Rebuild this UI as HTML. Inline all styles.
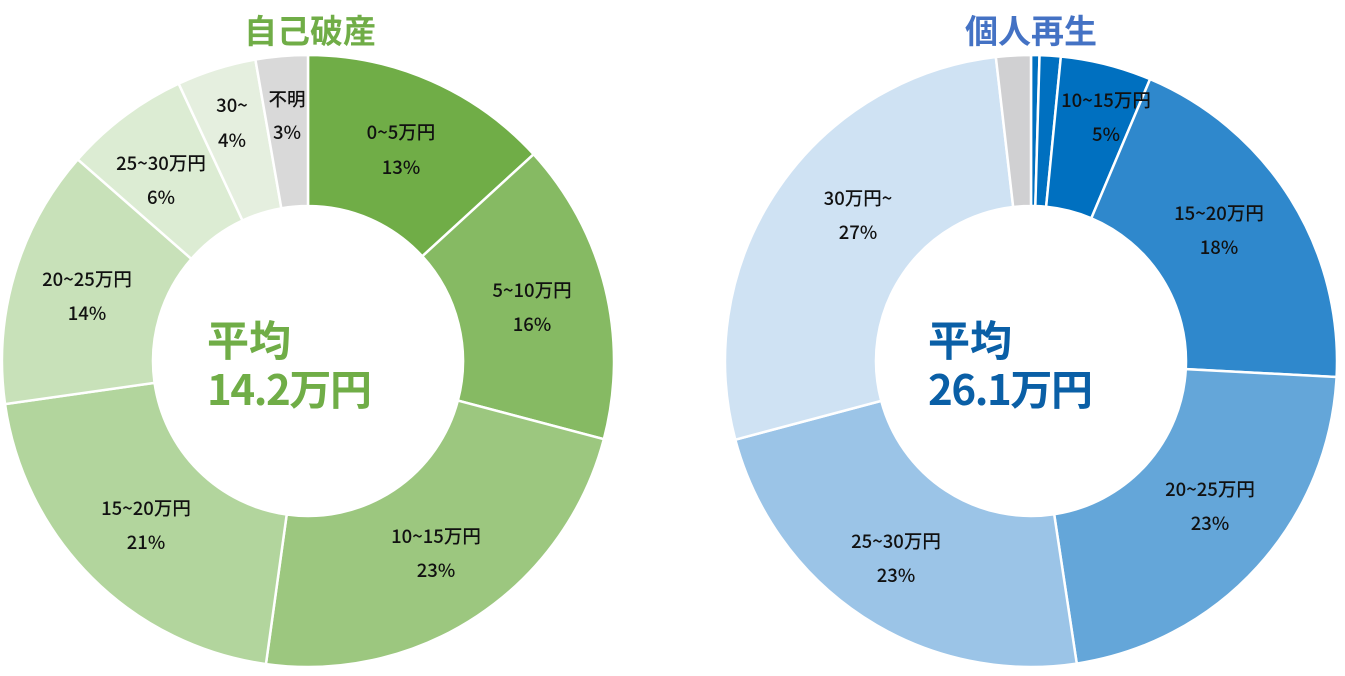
<!DOCTYPE html>
<html><head><meta charset="utf-8"><style>
html,body{margin:0;padding:0;background:#fff;}
svg{display:block;}
text{font-family:"Noto Sans CJK JP",sans-serif;}
.l{font-size:18.5px;font-weight:500;fill:#111;text-anchor:middle;}
</style></head><body>
<svg id="s" width="1345" height="676" viewBox="0 0 1345 676" xmlns="http://www.w3.org/2000/svg">
<text x="310" y="43" font-size="33" font-weight="bold" fill="#70ad47" text-anchor="middle">自己破産</text>
<text x="1031" y="43" font-size="33" font-weight="bold" fill="#4472c4" text-anchor="middle">個人再生</text>
<g id="g"></g>
<text x="207" y="356" font-size="42" font-weight="bold" fill="#70ad47">平均</text>
<text x="207" y="405" font-size="42" font-weight="bold" fill="#70ad47" textLength="165">14.2万円</text>
<text x="928" y="356" font-size="42" font-weight="bold" fill="#0a5fa6">平均</text>
<text x="928" y="405" font-size="42" font-weight="bold" fill="#0a5fa6" textLength="165">26.1万円</text>
<g id="lb">
<text class="l" x="401" y="139">0~5万円</text><text class="l" x="401" y="174">13%</text>
<text class="l" x="532" y="297">5~10万円</text><text class="l" x="532" y="331">16%</text>
<text class="l" x="436" y="543">10~15万円</text><text class="l" x="436" y="577">23%</text>
<text class="l" x="146" y="515">15~20万円</text><text class="l" x="146" y="549">21%</text>
<text class="l" x="87" y="286">20~25万円</text><text class="l" x="87" y="320">14%</text>
<text class="l" x="161" y="170">25~30万円</text><text class="l" x="161" y="204">6%</text>
<text class="l" x="232" y="112">30~</text><text class="l" x="232" y="147">4%</text>
<text class="l" x="287" y="106">不明</text><text class="l" x="287" y="139">3%</text>
<text class="l" x="1106" y="107">10~15万円</text><text class="l" x="1106" y="141">5%</text>
<text class="l" x="1219" y="220">15~20万円</text><text class="l" x="1219" y="254">18%</text>
<text class="l" x="1210" y="496">20~25万円</text><text class="l" x="1210" y="530">23%</text>
<text class="l" x="896" y="548">25~30万円</text><text class="l" x="896" y="582">23%</text>
<text class="l" x="858" y="205">30万円~</text><text class="l" x="858" y="239">27%</text>
</g>
</svg>
<script>
function donut(cx,cy,R,r,b,cols){
 var g=document.getElementById('g'),s='';
 for(var i=0;i<cols.length;i++){
  var a0=b[i]*Math.PI/180,a1=b[i+1]*Math.PI/180,lg=(b[i+1]-b[i])>180?1:0;
  function p(rr,a){return (cx+rr*Math.sin(a)).toFixed(2)+','+(cy-rr*Math.cos(a)).toFixed(2);}
  s+='<path d="M'+p(R,a0)+' A'+R+','+R+' 0 '+lg+' 1 '+p(R,a1)+' L'+p(r,a1)+' A'+r+','+r+' 0 '+lg+' 0 '+p(r,a0)+' Z" fill="'+cols[i]+'" stroke="#fff" stroke-width="2.5"/>';
 }
 g.innerHTML+=s;
}
donut(308,361,306,155,[0,47.5,104.8,187.9,261.9,311.2,335,350.1,360],
 ['#70ad47','#86ba63','#9cc77f','#b2d59d','#c8e1b9','#dcecd3','#e5efdf','#d9d9d9']);
donut(1031,361,306,155,[0,1.6,5.6,22.9,93,171.4,255.1,353.4,360],
 ['#0070c0','#0070c0','#0070c0','#2f88cc','#64a6d9','#9bc4e7','#cfe2f3','#d0d0d2']);
</script>
</body></html>
